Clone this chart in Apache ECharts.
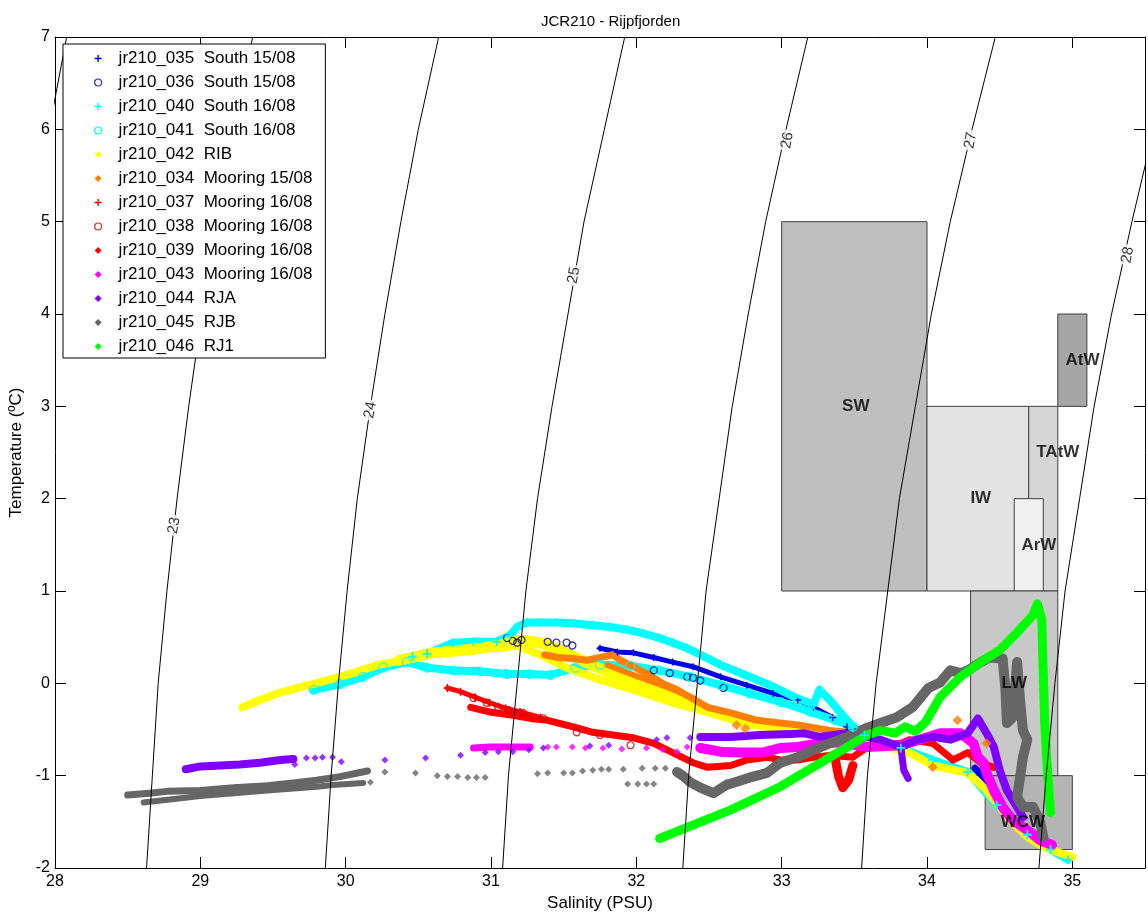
<!DOCTYPE html>
<html><head><meta charset="utf-8">
<script src="https://cdn.jsdelivr.net/npm/echarts@6/dist/echarts.min.js"></script>
<style>html,body{margin:0;padding:0;background:#fff}#c{width:1148px;height:921px}</style>
</head><body><div id="c"></div>
<script>
// ---------- density contours (sigma-t), salinity at each temperature ----------
const contourT = [-2, -1, 0, 1, 2, 3, 4, 5, 6, 7];
const sig22 = [27.38, 27.41, 27.46, 27.51, 27.58, 27.66, 27.75, 27.85, 27.96, 28.08];
const sig23 = [28.63, 28.67, 28.71, 28.77, 28.84, 28.92, 29.01, 29.12, 29.23, 29.36];
const sig24 = [29.86, 29.90, 29.95, 30.01, 30.08, 30.17, 30.27, 30.38, 30.50, 30.64];
const sig25 = [31.08, 31.12, 31.18, 31.24, 31.32, 31.42, 31.53, 31.64, 31.78, 31.92];
const sig26 = [32.32, 32.36, 32.42, 32.48, 32.57, 32.66, 32.77, 32.89, 33.03, 33.18];
const sig27 = [33.55, 33.59, 33.65, 33.73, 33.81, 33.92, 34.03, 34.16, 34.31, 34.47];
const sig28 = [34.77, 34.82, 34.88, 34.95, 35.05, 35.15, 35.27, 35.41, 35.56, 35.73];
const contourLabels = ['23', '24', '25', '26', '27', '28'];
const contourLabelS = [28.82, 30.17, 31.57, 33.04, 34.30, 35.38];
const contourLabelT = [1.71, 2.96, 4.42, 5.88, 5.88, 4.64];

// ---------- water mass boxes ----------
const boxNames = ['SW', 'IW', 'TAtW', 'ArW', 'AtW', 'LW', 'WCW'];
const boxSmin = [33.0, 34.0, 34.7, 34.6, 34.9, 34.3, 34.4];
const boxSmax = [34.0, 34.7, 34.9, 34.8, 35.1, 34.9, 35.0];
const boxTmin = [1.0, 1.0, 1.0, 1.0, 3.0, -1.0, -1.8];
const boxTmax = [5.0, 3.0, 3.0, 2.0, 4.0, 1.0, -1.0];
const boxLabelS = [33.51, 34.37, 34.90, 34.77, 35.07, 34.60, 34.66];
const boxLabelT = [3.0, 2.0, 2.5, 1.5, 3.5, 0.0, -1.5];

// ---------- station names ----------
const stations = ['jr210_035  South 15/08', 'jr210_036  South 15/08', 'jr210_040  South 16/08',
  'jr210_041  South 16/08', 'jr210_042  RIB', 'jr210_034  Mooring 15/08', 'jr210_037  Mooring 16/08',
  'jr210_038  Mooring 16/08', 'jr210_039  Mooring 16/08', 'jr210_043  Mooring 16/08',
  'jr210_044  RJA', 'jr210_045  RJB', 'jr210_046  RJ1'];

// ---------- profiles [salinity, temperature] ----------
const s035 = [[31.75,0.38],[31.87,0.34],[31.98,0.33],[32.12,0.28],[32.25,0.23],[32.39,0.18],[32.58,0.07],[32.76,-0.02],[32.94,-0.11],[33.11,-0.18],[33.22,-0.26],[33.35,-0.37],[33.45,-0.47],[33.57,-0.56]];
const s035b = [[34.33,-0.92],[34.40,-1.03],[34.47,-1.18]];
const s036 = [[31.11,0.49],[31.15,0.46],[31.18,0.44],[31.21,0.47],[31.39,0.45],[31.45,0.44],[31.52,0.44],[31.56,0.41],[32.12,0.14],[32.23,0.11],[32.35,0.07],[32.39,0.06],[32.44,0.03],[32.60,-0.05]];
const s040 = [[30.46,0.29],[30.56,0.32],[30.74,0.44],[30.88,0.45],[31.04,0.45],[31.13,0.52],[31.18,0.61],[31.25,0.66],[31.34,0.66],[31.45,0.66],[31.56,0.65],[31.70,0.63],[31.82,0.61],[31.94,0.58],[32.05,0.54],[32.16,0.49],[32.25,0.44],[32.35,0.38],[32.44,0.31],[32.58,0.20],[32.75,0.09],[32.92,-0.02],[33.09,-0.15],[33.22,-0.23],[33.26,-0.07],[33.33,-0.18],[33.40,-0.31],[33.49,-0.47],[33.57,-0.56],[33.82,-0.70],[34.04,-0.83],[34.28,-0.96],[34.48,-1.32],[34.69,-1.64],[34.85,-1.80],[34.97,-1.91]];
const s041 = [[29.78,-0.07],[29.96,-0.01],[30.12,0.07],[30.26,0.17],[30.42,0.23],[30.56,0.17],[30.74,0.14],[30.92,0.13],[31.11,0.10],[31.27,0.10],[31.41,0.09],[31.58,0.17],[31.75,0.20],[31.96,0.19],[32.16,0.14],[32.37,0.07],[32.58,-0.02],[32.78,-0.11],[32.99,-0.20],[33.20,-0.31],[33.37,-0.40],[33.49,-0.47]];
const s042a = [[29.29,-0.26],[29.41,-0.18],[29.53,-0.11],[29.69,-0.04],[29.82,0.01],[29.96,0.07],[30.05,0.11],[30.22,0.20],[30.33,0.23],[30.49,0.28],[30.60,0.34],[30.74,0.36],[30.88,0.39],[31.06,0.38],[31.18,0.41],[31.34,0.31],[31.52,0.17],[31.75,0.04],[31.98,-0.07],[32.25,-0.21],[32.44,-0.29],[32.76,-0.43],[32.99,-0.48],[33.18,-0.53],[33.29,-0.56],[33.47,-0.61],[33.68,-0.67],[33.88,-0.75],[34.04,-0.89],[34.28,-0.97],[34.41,-1.16],[34.50,-1.34],[34.59,-1.51],[34.69,-1.66],[34.80,-1.77],[34.92,-1.84],[35.00,-1.88]];
const s042b = [[30.37,0.25],[30.60,0.33],[30.84,0.36],[31.06,0.41],[31.18,0.47],[31.34,0.44],[31.48,0.36],[31.66,0.22],[31.89,0.07],[32.12,-0.07],[32.30,-0.18],[32.53,-0.31],[32.76,-0.42],[32.99,-0.48]];
const s034 = [[31.37,0.31],[31.46,0.28],[31.56,0.27],[31.66,0.25],[31.75,0.28],[31.84,0.31],[31.89,0.25],[31.98,0.18],[32.09,0.09],[32.18,0.00],[32.28,-0.07],[32.37,-0.15],[32.49,-0.26],[32.65,-0.32],[32.83,-0.40],[32.99,-0.43],[33.11,-0.45],[33.22,-0.48],[33.33,-0.51],[33.45,-0.53],[33.57,-0.58]];
const s034b = [[31.80,0.20],[31.98,0.09],[32.21,-0.04],[32.39,-0.16]];
const s034pts = [[32.69,-0.45],[32.75,-0.49],[34.21,-0.40],[34.41,-0.65],[34.04,-0.91]];
const s037 = [[30.70,-0.05],[30.79,-0.09],[30.89,-0.15],[30.99,-0.21],[31.10,-0.27],[31.20,-0.31],[31.34,-0.37]];
const s038 = [[30.88,-0.16],[30.97,-0.21],[31.05,-0.26],[31.12,-0.29],[31.22,-0.32],[31.36,-0.38],[31.59,-0.53],[31.75,-0.56],[31.96,-0.67]];
const s039 = [[30.86,-0.26],[30.99,-0.31],[31.13,-0.34],[31.27,-0.38],[31.39,-0.40],[31.56,-0.47],[31.70,-0.53],[31.84,-0.56],[31.98,-0.59],[32.12,-0.65],[32.25,-0.75],[32.39,-0.86],[32.49,-0.91],[32.65,-0.89],[32.76,-0.83],[32.90,-0.80],[32.99,-0.83],[33.11,-0.83],[33.22,-0.80],[33.33,-0.78],[33.49,-0.80],[33.59,-0.69],[33.82,-0.65],[33.88,-0.61],[34.04,-0.65],[34.18,-0.83],[34.28,-0.75],[34.37,-0.86],[34.46,-0.91]];
const s039b = [[33.37,-0.83],[33.39,-1.00],[33.42,-1.13],[33.46,-1.05],[33.49,-0.89]];
const s043a = [[30.88,-0.70],[30.99,-0.69],[31.13,-0.69],[31.27,-0.69]];
const s043pts = [[31.39,-0.69],[31.45,-0.69],[31.56,-0.69],[31.65,-0.70],[31.77,-0.70],[31.90,-0.71],[32.07,-0.70],[32.18,-0.72],[32.28,-0.74],[32.35,-0.69]];
const s043b = [[32.44,-0.70],[32.58,-0.74],[32.71,-0.75],[32.87,-0.75],[32.99,-0.70],[33.11,-0.69],[33.26,-0.65],[33.40,-0.64],[33.59,-0.69],[33.82,-0.67],[33.95,-0.61],[34.09,-0.54],[34.23,-0.54],[34.32,-0.65],[34.35,-0.80],[34.39,-0.86],[34.41,-0.97],[34.46,-1.16],[34.52,-1.34],[34.59,-1.48],[34.69,-1.59],[34.78,-1.70],[34.86,-1.75]];
const s044a = [[28.90,-0.93],[29.00,-0.90],[29.14,-0.89],[29.27,-0.88],[29.41,-0.86],[29.55,-0.83],[29.64,-0.82]];
const s044pts = [[29.65,-0.88],[29.73,-0.81],[29.79,-0.81],[29.84,-0.80],[29.91,-0.80],[29.97,-0.85],[30.27,-0.83],[30.55,-0.81],[30.79,-0.78],[30.96,-0.75],[31.05,-0.74],[31.15,-0.74],[31.26,-0.72],[31.36,-0.70],[31.68,-0.68],[31.81,-0.67],[32.14,-0.61],[32.21,-0.59],[32.37,-0.59]];
const s044b = [[32.44,-0.58],[32.65,-0.58],[32.85,-0.56],[33.06,-0.55],[33.15,-0.54],[33.26,-0.58],[33.45,-0.54],[33.68,-0.61],[33.82,-0.69],[33.93,-0.61],[34.04,-0.58],[34.16,-0.61],[34.28,-0.54],[34.35,-0.38],[34.41,-0.54],[34.46,-0.69],[34.50,-0.94],[34.55,-1.16],[34.62,-1.34],[34.66,-1.45]];
const s044c = [[33.82,-0.69],[33.84,-0.94],[33.87,-1.03]];
const s045a = [[28.50,-1.21],[28.65,-1.19],[28.77,-1.17],[29.00,-1.16],[29.23,-1.13],[29.46,-1.11],[29.64,-1.08],[29.80,-1.05],[29.96,-1.01],[30.15,-0.95]];
const s045b = [[28.61,-1.29],[29.00,-1.22],[29.46,-1.16],[29.80,-1.12],[29.91,-1.10],[30.12,-1.08]];
const s045pts = [[30.17,-1.07],[30.27,-0.96],[30.48,-0.97],[30.63,-1.00],[30.70,-1.01],[30.77,-1.01],[30.84,-1.02],[30.90,-1.02],[30.96,-1.02],[31.32,-0.98],[31.39,-0.97],[31.50,-0.97],[31.56,-0.97],[31.63,-0.95],[31.70,-0.94],[31.76,-0.93],[31.81,-0.93],[31.91,-0.93],[32.04,-0.92],[32.13,-0.92],[32.20,-0.92],[31.94,-1.09],[32.01,-1.09],[32.07,-1.09],[32.12,-1.09],[32.62,-1.07],[32.69,-1.05]];
const s045c = [[32.28,-0.96],[32.32,-1.00],[32.37,-1.07],[32.44,-1.13],[32.53,-1.19],[32.62,-1.10],[32.76,-1.03],[32.90,-0.97],[32.99,-0.86],[33.11,-0.80],[33.22,-0.72],[33.33,-0.65],[33.45,-0.58],[33.59,-0.48],[33.68,-0.43],[33.79,-0.37],[33.90,-0.26],[34.01,-0.05],[34.09,0.01],[34.16,0.14],[34.23,0.11],[34.28,0.14],[34.37,0.23],[34.43,0.28],[34.52,0.27],[34.54,-0.07],[34.55,-0.43],[34.59,-0.37],[34.62,0.23],[34.64,-0.18],[34.66,-0.51],[34.69,-0.61],[34.66,-0.80],[34.64,-1.02],[34.62,-1.23],[34.66,-1.34],[34.73,-1.34],[34.78,-1.51],[34.80,-1.66]];
const s046 = [[32.16,-1.68],[32.35,-1.56],[32.65,-1.37],[32.99,-1.12],[33.27,-0.86],[33.45,-0.69],[33.59,-0.56],[33.68,-0.51],[33.78,-0.54],[33.85,-0.47],[33.92,-0.52],[33.99,-0.42],[34.09,-0.15],[34.23,0.07],[34.37,0.23],[34.50,0.36],[34.62,0.55],[34.73,0.74],[34.76,0.86],[34.79,0.69],[34.80,0.11],[34.81,-0.43],[34.83,-0.97],[34.85,-1.40]];

// ---------- styles ----------
const FONT = 'Liberation Sans, Arial, Helvetica, sans-serif';
const PLUS = 'path://M4,0H6V4H10V6H6V10H4V6H0V4H4Z';
const COL = ['#0000e6', '#00009c', '#00ffff', '#00ffff', '#ffff00', '#ff8000', '#ff0000',
  '#c80000', '#ff0000', '#ff00ff', '#7f00ff', '#666666', '#00ff00'];
const ICON = [PLUS, 'circle', PLUS, 'circle', 'diamond', 'diamond', PLUS, 'circle', 'diamond', 'diamond', 'diamond', 'diamond', 'diamond'];
const HOLLOW = [false, true, false, true, false, false, false, true, false, false, false, false, false];
const BOX_FILL = ['#bfbfbf', '#e3e3e3', '#d6d6d6', '#f0f0f0', '#a6a6a6', '#c8c8c8', '#b4b4b4'];

function band(i, data, width, sym, symSize) {
  return {
    type: 'line', name: stations[i], data: data, z: 3, silent: true, animation: false, clip: true,
    showSymbol: !!sym, symbol: sym || 'none', symbolSize: symSize || 6,
    lineStyle: { color: COL[i], width: width, cap: 'round', join: 'round' },
    itemStyle: { color: COL[i] }, emphasis: { disabled: true }
  };
}
function dots(i, data, sym, size) {
  return {
    type: 'scatter', name: stations[i], data: data, z: 3, silent: true, animation: false,
    symbol: sym, symbolSize: size,
    itemStyle: HOLLOW[i] ? { color: 'rgba(0,0,0,0)', borderColor: COL[i], borderWidth: 1.3 } : { color: COL[i] },
    emphasis: { disabled: true }
  };
}
function contour(arr) {
  return {
    type: 'line', data: arr.map((s, k) => [s, contourT[k]]), z: 5, silent: true, animation: false, clip: true,
    showSymbol: false, symbol: 'none', lineStyle: { color: '#000', width: 1 }, emphasis: { disabled: true }
  };
}

const series = [
  {
    type: 'custom', z: 1, silent: true, animation: false, clip: true,
    data: boxNames.map((n, i) => [boxSmin[i], boxSmax[i], boxTmin[i], boxTmax[i]]),
    encode: { x: [0, 1], y: [2, 3] },
    renderItem: function (params, api) {
      const p0 = api.coord([api.value(0), api.value(3)]);
      const p1 = api.coord([api.value(1), api.value(2)]);
      return { type: 'rect', shape: { x: p0[0], y: p0[1], width: p1[0] - p0[0], height: p1[1] - p0[1] },
        style: { fill: BOX_FILL[params.dataIndex], stroke: '#404040', lineWidth: 1 } };
    }
  },
  band(0, s035, 5, PLUS, 7), band(0, s035b, 7),
  dots(1, s036, 'circle', 7),
  band(2, s040, 8, PLUS, 9),
  band(3, s041, 8), dots(3, s041, 'circle', 9),
  band(4, s042a, 8), band(4, s042b, 11),
  band(5, s034, 7), band(5, s034b, 6), dots(5, s034pts, 'diamond', 10),
  band(6, s037, 5, PLUS, 8),
  dots(7, s038, 'circle', 7),
  band(8, s039, 7), band(8, s039b, 9),
  band(9, s043a, 7), dots(9, s043pts, 'diamond', 7), band(9, s043b, 10),
  band(10, s044a, 8), dots(10, s044pts, 'diamond', 7), band(10, s044b, 8), band(10, s044c, 7),
  band(11, s045a, 7), band(11, s045b, 6), dots(11, s045pts, 'diamond', 7), band(11, s045c, 10),
  band(12, s046, 9),
  contour(sig22), contour(sig23), contour(sig24), contour(sig25), contour(sig26), contour(sig27), contour(sig28),
  {
    type: 'scatter', z: 6, silent: true, animation: false, symbolSize: 1, itemStyle: { color: 'rgba(0,0,0,0)' },
    data: contourLabels.map((t, i) => [contourLabelS[i], contourLabelT[i], t]),
    label: { show: true, position: 'inside', formatter: p => p.data[2], rotate: 80, fontSize: 15,
      color: '#000', fontFamily: FONT, backgroundColor: '#fff', padding: [1, 2] }
  },
  {
    type: 'scatter', z: 10, silent: true, animation: false, symbolSize: 1, itemStyle: { color: 'rgba(0,0,0,0)' },
    data: boxNames.map((n, i) => [boxLabelS[i], boxLabelT[i], n]),
    label: { show: true, position: 'inside', formatter: p => p.data[2], fontSize: 17, fontWeight: 'bold',
      color: '#000', fontFamily: FONT }
  }
];

const axisCommon = {
  axisLine: { show: true, onZero: false, lineStyle: { color: '#000', width: 1 } },
  axisTick: { show: true, inside: true, length: 11, lineStyle: { color: '#000' } },
  splitLine: { show: false }
};

const chart = echarts.init(document.getElementById('c'), null, { renderer: 'canvas' });
chart.setOption({
  backgroundColor: '#fff',
  animation: false,
  title: { text: 'JCR210 - Rijpfjorden', left: 536, top: 9,
    textStyle: { fontSize: 15, fontWeight: 'normal', color: '#000', fontFamily: FONT } },
  grid: { left: 55, right: 3, top: 37, bottom: 53, containLabel: false, outerBoundsMode: 'none' },
  legend: {
    orient: 'vertical', left: 63, top: 44, z: 20, selectedMode: false,
    backgroundColor: '#fff', borderColor: '#000', borderWidth: 1,
    padding: [6, 13, 3, 31], itemGap: 7, itemWidth: 7, itemHeight: 7,
    textStyle: { fontSize: 17, color: '#000', fontFamily: FONT, lineHeight: 16, padding: [0, 0, 0, 12] },
    data: stations.map((n, i) => ({
      name: n, icon: ICON[i],
      itemStyle: HOLLOW[i] ? { color: '#fff', borderColor: COL[i], borderWidth: 1.2 } : { color: COL[i], borderWidth: 0 }
    }))
  },
  xAxis: [
    Object.assign({}, axisCommon, {
      type: 'value', min: 28, max: 35.5, interval: 1, position: 'bottom',
      name: 'Salinity (PSU)', nameLocation: 'middle', nameGap: 27,
      nameTextStyle: { fontSize: 17, color: '#000', fontFamily: FONT },
      axisLabel: { show: true, color: '#000', fontSize: 16, margin: 6, fontFamily: FONT,
        formatter: v => (Number.isInteger(v) ? String(v) : '') }
    }),
    Object.assign({}, axisCommon, {
      type: 'value', min: 28, max: 35.5, interval: 1, position: 'top', axisLabel: { show: false }
    })
  ],
  yAxis: [
    Object.assign({}, axisCommon, {
      type: 'value', min: -2, max: 7, interval: 1, position: 'left',
      name: 'Temperature (ºC)', nameLocation: 'middle', nameGap: 29,
      nameTextStyle: { fontSize: 17, color: '#000', fontFamily: FONT },
      axisLabel: { show: true, color: '#000', fontSize: 16, margin: 5, fontFamily: FONT }
    }),
    Object.assign({}, axisCommon, {
      type: 'value', min: -2, max: 7, interval: 1, position: 'right', axisLabel: { show: false }
    })
  ],
  series: series
});
</script>
</body></html>
